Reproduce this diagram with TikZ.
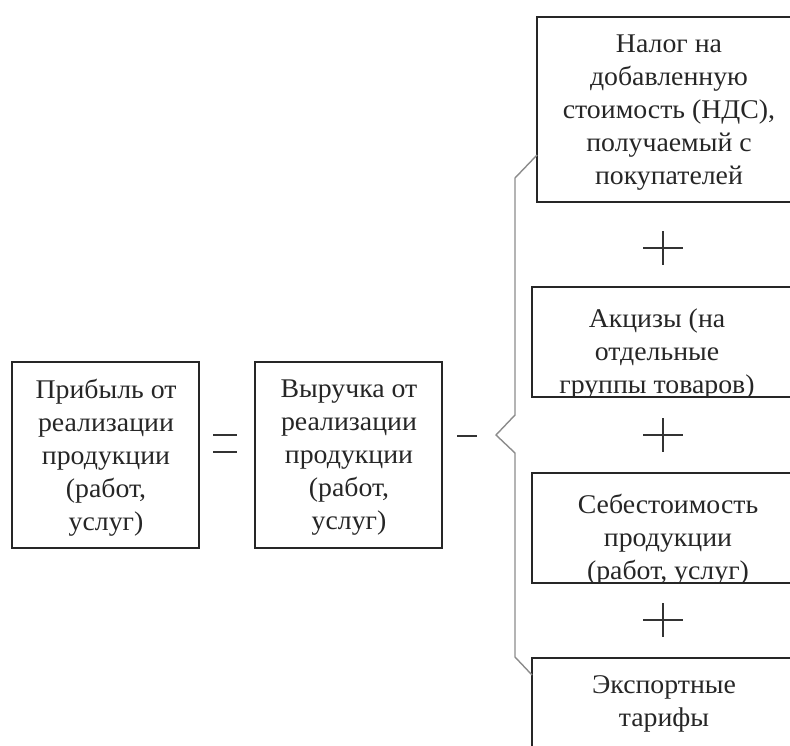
\documentclass[tikz,border=0pt]{standalone}
\usepackage{fontspec}
\setmainfont[FakeStretch=1.03]{Liberation Serif}
\begin{document}
\begin{tikzpicture}[x=1pt,y=-1pt,
  box/.style={draw=black!85,line width=1.3pt,rectangle},
  txt/.style={align=center,font=\fontsize{27}{33}\selectfont,text=black!85,inner sep=0pt},
  op/.style={line width=1.1pt,draw=black!80},
  brace/.style={draw=black!45,line width=1.4pt}]
\useasboundingbox (0,0) rectangle (790,745);
\clip (0,0) rectangle (790,745);
% left boxes
\draw[box] (12,362) rectangle (199,548);
\node[txt] (ta) at (106,458) {Прибыль от\\реализации\\продукции\\(работ,\\услуг)};
\draw[box] (255,362) rectangle (442,548);
\node[txt] (tb) at (349,458) {Выручка от\\реализации\\продукции\\(работ,\\услуг)};
% equal sign
\coordinate (e1) at (213,435); \coordinate (e2) at (237,435);
\coordinate (e3) at (213,452); \coordinate (e4) at (237,452);
\draw[op] (e1) -- (e2); \draw[op] (e3) -- (e4);
% minus
\coordinate (m1) at (457,436); \coordinate (m2) at (477,436);
\draw[op] (m1) -- (m2);
% right boxes
\draw[box] (537,17) rectangle (800,202);
\node[txt] (t1) at (669,113) {Налог на\\добавленную\\стоимость (НДС),\\получаемый с\\покупателей};
\begin{scope}
\clip (532,287) rectangle (800,397);
\node[txt] (t2) at (657,354) {Акцизы (на\\отдельные\\группы товаров)};
\end{scope}
\draw[box] (532,287) rectangle (800,397);
\begin{scope}
\clip (532,473) rectangle (800,583);
\node[txt] (t3) at (668,540) {Себестоимость\\продукции\\(работ, услуг)};
\end{scope}
\draw[box] (532,473) rectangle (800,583);
\draw[box] (532,658) rectangle (800,770);
\node[txt] (t4) at (664,704) {Экспортные\\тарифы};
% plus signs
\foreach \y/\n in {248/p1,435/p2,620/p3}{
  \coordinate (\n l) at (643,\y); \coordinate (\n r) at (683,\y);
  \coordinate (\n t) at (663,\y-17); \coordinate (\n b) at (663,\y+17);
  \draw[op] (\n l) -- (\n r);
  \draw[op] (\n t) -- (\n b);
}
% brace
\coordinate (b0) at (537,155); \coordinate (b1) at (515,178);
\coordinate (b2) at (515,415); \coordinate (b3) at (496,435);
\coordinate (b4) at (515,453); \coordinate (b5) at (515,657);
\coordinate (b6) at (532,675);
\draw[brace,line join=miter] (b0) -- (b1) -- (b2) -- (b3) -- (b4) -- (b5) -- (b6);
\end{tikzpicture}
\end{document}
